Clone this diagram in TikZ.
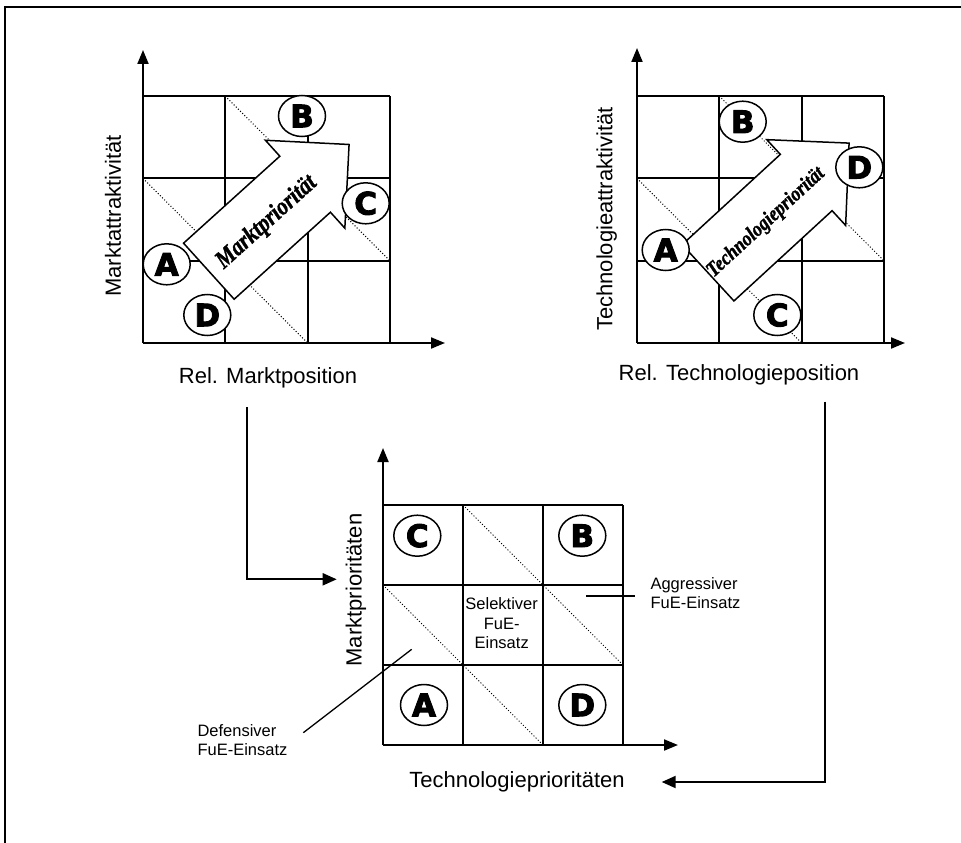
\documentclass[tikz,border=0pt]{standalone}
\usepackage{fontspec}
\setmainfont{Liberation Sans}
\newfontfamily\markfont{DejaVu Sans}[BoldFeatures={FakeBold=3}]
\newfontfamily\prifont{Liberation Serif}[BoldItalicFeatures={FakeBold=1.5}]
\usetikzlibrary{arrows.meta,shapes.geometric,shapes.arrows}

\begin{document}
\begin{tikzpicture}[x=1pt, y=-1pt, >={Triangle[length=14pt,width=11pt]},
  font=\fontsize{22}{26}\selectfont,
  gl/.style={line width=2pt},
  dg/.style={dotted, line width=1pt},
  mk/.style={draw, ellipse, fill=white, line width=1.5pt, minimum width=47pt, minimum height=41pt, inner sep=0pt, font=\markfont\bfseries\fontsize{31}{31}\selectfont},
  sm/.style={font=\fontsize{16.5}{19.5}\selectfont, align=left},
  big/.style={draw, single arrow, fill=white, line width=1.5pt, inner sep=0pt, font=\prifont\bfseries\itshape}]
\useasboundingbox (0,0) rectangle (961,843);
% frame
\draw[line width=2.5pt] (5,843) -- (5,7) -- (961,7);
% matrices: name/origin x/origin y/cell/tip of y axis/tip of x axis
\foreach \n/\ox/\oy/\c/\ty/\tx in {m/143/343/82.3/50/445, t/637/343/82.3/48/905, p/383/745/80/448/678} {
  \coordinate (\n-o) at (\ox,\oy);
  \coordinate (\n-y) at (\ox,\ty);
  \coordinate (\n-x) at (\tx,\oy);
  \foreach \i in {1,2,3} {
    \draw[gl] (\ox+\i*\c,\oy) -- (\ox+\i*\c,\oy-3*\c);
    \draw[gl] (\ox,\oy-\i*\c) -- (\ox+3*\c,\oy-\i*\c);
  }
  \draw[dg] (\ox+\c,\oy-3*\c) -- (\ox+3*\c,\oy-\c);
  \draw[dg] (\ox,\oy-2*\c) -- (\ox+2*\c,\oy);
  \draw[gl,->] (\n-o) -- (\n-y);
  \draw[gl,->] (\n-o) -- (\n-x);
}
% priority arrows
\node[big, rotate=42.1, anchor=tail, minimum height=189pt, text height=45.7pt, text depth=28.3pt, single arrow head extend=21.5pt] (ma) at (208.3,271.7) {\fontsize{25}{25}\selectfont\scalebox{0.85}[1]{Marktpriorität}};
\node[big, rotate=42.6, anchor=tail, minimum height=182pt, text height=44.9pt, text depth=30.1pt, single arrow head extend=20pt] (ta) at (707.5,273.3) {\fontsize{21}{21}\selectfont\scalebox{0.86}[1]{Technologiepriorität}};
% portfolio marks
\foreach \p/\l/\x/\y in {m/B/302/116, m/C/365.7/203.3, m/A/166.7/264.3, m/D/207.3/315,
  t/B/742.7/121.7, t/D/859.3/167.3, t/A/665.7/250, t/C/777.3/315,
  p/C/417.3/535.7, p/B/582.3/535.7, p/A/424/705, p/D/582.3/705}
  \node[mk] (\p\l) at (\x,\y) {\l};
% axis labels
\node[rotate=90] (ylm) at (113,216) {Marktattraktivität};
\node (xlm) at (268,378) {Rel. Marktposition};
\node[rotate=90] (ylt) at (606.7,219) {Technologieattraktivität};
\node (xlt) at (739,375) {Rel. Technologieposition};
\node[rotate=90] (ylp) at (356,590) {Marktprioritäten};
\node (xlp) at (517,782) {Technologieprioritäten};
% strategies
\node[sm, align=center] (sel) at (501.7,623.3) {Selektiver\\FuE-\\Einsatz};
\node[sm, anchor=west] (agg) at (647,593) {Aggressiver\\FuE-Einsatz};
\node[sm, anchor=west] (def) at (194,740) {Defensiver\\FuE-Einsatz};
\coordinate (agg-p) at (586,596);
\coordinate (agg-q) at (635,596);
\coordinate (def-p) at (411.7,649.3);
\coordinate (def-q) at (303.3,732.7);
\draw[line width=1.3pt] (agg-p) -- (agg-q);
\draw[line width=1.3pt] (def-p) -- (def-q);
% links between the portfolios
\coordinate (k1) at (246.7,407.3);
\coordinate (k1e) at (336.7,579.3);
\coordinate (k2) at (825,401.7);
\coordinate (k2e) at (661.7,782);
\draw[gl,-{Triangle[length=14pt,width=12pt]}] (k1) |- (k1e);
\draw[gl,-{Triangle[length=14pt,width=12pt]}] (k2) |- (k2e);
\end{tikzpicture}
\end{document}
